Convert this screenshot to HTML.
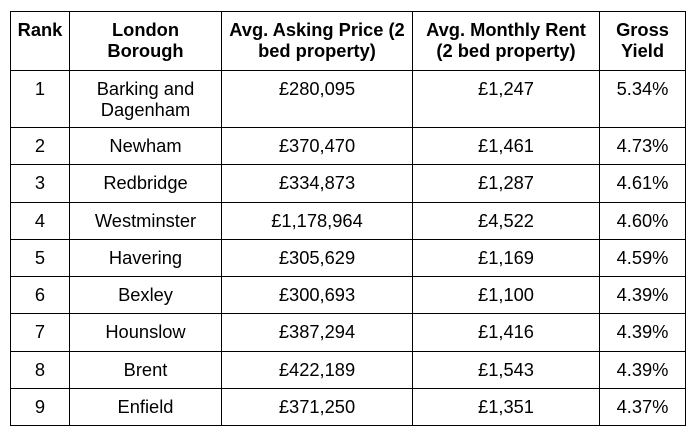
<!DOCTYPE html>
<html><head><style>
html,body{margin:0;padding:0;background:#fff;width:693px;height:438px;overflow:hidden}
table{position:absolute;left:10px;top:11px;border-collapse:collapse;table-layout:fixed;font-family:"Liberation Sans",Arial,sans-serif;font-size:18.3px;color:#000}
td,th{border:1px solid #000;text-align:center;vertical-align:top;padding:7px 4px 0 4px;line-height:21px;box-sizing:border-box;white-space:normal}
th{font-weight:bold;height:59px}
td{height:37.25px}
tr.r1 td{height:57px}
</style></head><body>
<table>
<colgroup><col style="width:59px"><col style="width:152px"><col style="width:191px"><col style="width:187px"><col style="width:86px"></colgroup>
<tr><th>Rank</th><th>London<br>Borough</th><th>Avg. Asking Price (2<br>bed property)</th><th>Avg. Monthly Rent<br>(2 bed property)</th><th>Gross<br>Yield</th></tr>
<tr class="r1"><td>1</td><td>Barking and<br>Dagenham</td><td>£280,095</td><td>£1,247</td><td>5.34%</td></tr>
<tr><td>2</td><td>Newham</td><td>£370,470</td><td>£1,461</td><td>4.73%</td></tr>
<tr><td>3</td><td>Redbridge</td><td>£334,873</td><td>£1,287</td><td>4.61%</td></tr>
<tr><td>4</td><td>Westminster</td><td>£1,178,964</td><td>£4,522</td><td>4.60%</td></tr>
<tr><td>5</td><td>Havering</td><td>£305,629</td><td>£1,169</td><td>4.59%</td></tr>
<tr><td>6</td><td>Bexley</td><td>£300,693</td><td>£1,100</td><td>4.39%</td></tr>
<tr><td>7</td><td>Hounslow</td><td>£387,294</td><td>£1,416</td><td>4.39%</td></tr>
<tr><td>8</td><td>Brent</td><td>£422,189</td><td>£1,543</td><td>4.39%</td></tr>
<tr><td>9</td><td>Enfield</td><td>£371,250</td><td>£1,351</td><td>4.37%</td></tr>
</table>
</body></html>
